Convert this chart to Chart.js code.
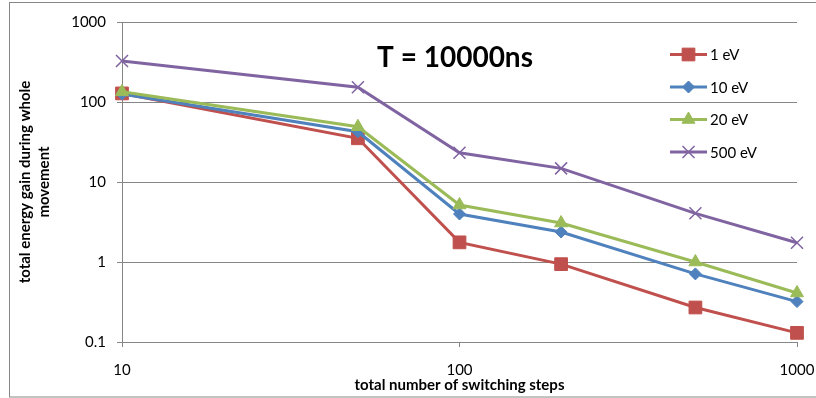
<!DOCTYPE html>
<html>
<head>
<meta charset="utf-8">
<script src="https://cdn.jsdelivr.net/npm/chart.js"></script>
<style>
  html, body { margin: 0; padding: 0; background: #fff; }
  #wrap { width: 816px; height: 398px; }
</style>
</head>
<body>
<div id="wrap"><canvas id="c" width="816" height="398"></canvas></div>
<script>
// ---- data ----
const steps = [10, 50, 100, 200, 500, 1000];
const seriesNames = ['1 eV', '10 eV', '20 eV', '500 eV'];
const gain1eV   = [128, 35.2, 1.76, 0.94, 0.27, 0.13];
const gain10eV  = [126, 42.5, 3.98, 2.37, 0.71, 0.32];
const gain20eV  = [134, 49, 5.16, 3.07, 1.0, 0.41];
const gain500eV = [325, 153, 23.2, 14.8, 4.06, 1.74];
const xTickValues = [10, 100, 1000];
const yTickValues = [0.1, 1, 10, 100, 1000];
const chartTitle = 'T = 10000ns';
const xTitle = 'total number of switching steps';
const yTitle = ['total energy gain during whole', 'movement'];

const colors = ['#C0504D', '#4F81BD', '#9BBB59', '#8064A2'];
const styles = [
  { pointStyle: 'rect', radius: 9, bw: 1 },
  { pointStyle: 'rectRot', radius: 6, bw: 1 },
  { pointStyle: 'triangle', radius: 7.5, bw: 1 },
  { pointStyle: 'crossRot', radius: 8.5, bw: 1.5 }
];
const values = [gain1eV, gain10eV, gain20eV, gain500eV];

const datasets = values.map((vals, i) => ({
  label: seriesNames[i],
  data: steps.map((s, j) => ({ x: s, y: vals[j] })),
  borderColor: colors[i],
  backgroundColor: colors[i],
  borderWidth: 3,
  pointStyle: styles[i].pointStyle,
  pointRadius: styles[i].radius,
  pointHoverRadius: styles[i].radius,
  pointBorderWidth: styles[i].bw,
  pointBackgroundColor: colors[i],
  pointBorderColor: colors[i],
  tension: 0,
  clip: false,
  order: 4 - i
}));

const GRID = '#868686';
Chart.defaults.font.family = 'Lato, "Open Sans", sans-serif';
Chart.defaults.color = '#000';

const decorPlugin = {
  id: 'decor',
  beforeDraw(chart) {
    const ctx = chart.ctx;
    ctx.save();
    ctx.fillStyle = '#fff';
    ctx.fillRect(0, 0, chart.width, chart.height);
    ctx.strokeStyle = GRID;
    ctx.lineWidth = 1;
    ctx.strokeRect(9.5, 2.5, 830, 394.5);
    ctx.restore();
  },
  afterDraw(chart) {
    const ctx = chart.ctx;
    ctx.save();
    // title
    ctx.font = 'bold 28px Lato, "Open Sans", sans-serif';
    ctx.fillStyle = '#000';
    ctx.textAlign = 'center';
    ctx.textBaseline = 'alphabetic';
    ctx.fillText(chartTitle, 455, 67);
    // legend
    const lx0 = 670, lx1 = 707, ly0 = 54.5, dy = 32.5;
    chart.data.datasets.forEach((ds, i) => {
      const y = ly0 + i * dy;
      ctx.strokeStyle = ds.borderColor;
      ctx.lineWidth = 3;
      ctx.beginPath();
      ctx.moveTo(lx0, y);
      ctx.lineTo(lx1, y);
      ctx.stroke();
      ctx.fillStyle = ds.backgroundColor;
      ctx.strokeStyle = ds.borderColor;
      ctx.lineWidth = ds.pointBorderWidth;
      if (Chart.helpers && Chart.helpers.drawPoint) {
        Chart.helpers.drawPoint(ctx, {
          pointStyle: ds.pointStyle,
          radius: ds.pointRadius,
          rotation: 0,
          borderWidth: ds.pointBorderWidth
        }, (lx0 + lx1) / 2, y);
      }
      ctx.fillStyle = '#000';
      ctx.font = '15px Lato, "Open Sans", sans-serif';
      ctx.textAlign = 'left';
      ctx.textBaseline = 'middle';
      ctx.fillText(ds.label, 710, y + 1);
    });
    ctx.restore();
  }
};

new Chart(document.getElementById('c'), {
  type: 'line',
  data: { datasets },
  options: {
    responsive: false,
    animation: false,
    events: [],
    layout: { padding: { top: 22, right: 19, left: 0, bottom: 0 } },
    plugins: { legend: { display: false }, tooltip: { enabled: false } },
    scales: {
      x: {
        type: 'logarithmic',
        min: 10,
        max: 1000,
        afterBuildTicks: (s) => { s.ticks = xTickValues.map(v => ({ value: v })); },
        afterFit: (s) => { s.height = 398 - 342; s.paddingLeft = 0; s.paddingRight = 0; },
        ticks: {
          autoSkip: false,
          maxRotation: 0,
          padding: 14,
          font: { size: 15 },
          callback: (v) => String(v)
        },
        grid: { drawOnChartArea: false, drawTicks: true, tickLength: 5, color: GRID },
        border: { display: true, color: GRID, width: 1 },
        title: {
          display: true,
          text: xTitle,
          font: { size: 15, weight: 'bold' },
          padding: { top: 0, bottom: 3.5 }
        }
      },
      y: {
        type: 'logarithmic',
        min: 0.1,
        max: 1000,
        afterBuildTicks: (s) => { s.ticks = yTickValues.map(v => ({ value: v })); },
        afterFit: (s) => { s.width = 122; s.paddingTop = 0; s.paddingBottom = 0; },
        ticks: {
          autoSkip: false,
          padding: 11,
          font: { size: 15 },
          callback: (v) => String(v)
        },
        grid: { color: GRID, tickLength: 5, lineWidth: 1 },
        border: { display: true, color: GRID, width: 1 },
        title: {
          display: true,
          text: yTitle,
          font: { size: 15, weight: 'bold', lineHeight: 1.25 },
          padding: { top: 16, bottom: 0 }
        }
      }
    }
  },
  plugins: [decorPlugin]
});
</script>
</body>
</html>
